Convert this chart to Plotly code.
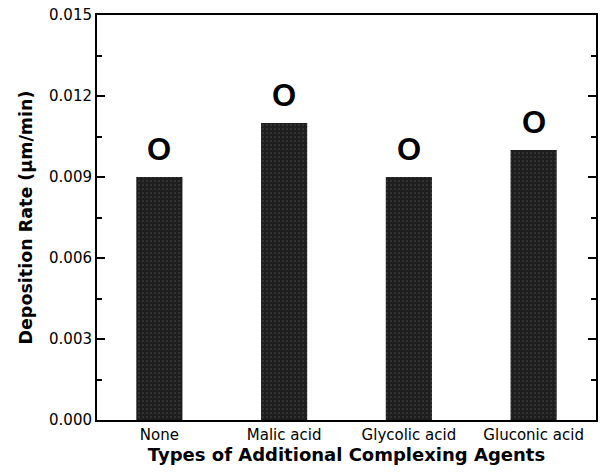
import plotly.graph_objects as go

categories = ["None", "Malic acid", "Glycolic acid", "Gluconic acid"]
rates = [0.009, 0.011, 0.009, 0.010]
bar_labels = ["O", "O", "O", "O"]
y_ticks = [0.000, 0.003, 0.006, 0.009, 0.012, 0.015]
y_tick_text = ["0.000", "0.003", "0.006", "0.009", "0.012", "0.015"]
y_minor_ticks = [0.0015, 0.0045, 0.0075, 0.0105, 0.0135]

fig = go.Figure()
fig.add_trace(go.Bar(
    x=categories, y=rates,
    marker=dict(color="#262626", line=dict(width=0),
                pattern=dict(shape=".", fgcolor="#6a6a6a", bgcolor="#1e1e1e", size=4, solidity=0.15)),
    width=0.37,
))

for cat, val, lab in zip(categories, rates, bar_labels):
    fig.add_annotation(x=cat, y=val, text=lab, showarrow=False,
                       yanchor="bottom", yshift=8,
                       font=dict(family="Liberation Sans, Arial", size=31, color="black", weight="bold"))

fig.update_layout(
    width=603, height=475,
    margin=dict(l=97, r=5, t=15, b=55),
    paper_bgcolor="white", plot_bgcolor="white",
    showlegend=False,
    font=dict(family="Liberation Sans, Arial", color="black"),
    xaxis=dict(
        showline=True, linecolor="black", linewidth=2, mirror=True,
        ticks="", showgrid=False,
        tickfont=dict(family="DejaVu Sans", size=15),
        title=dict(text="Types of Additional Complexing Agents",
                   font=dict(family="DejaVu Sans", size=18, weight="bold"), standoff=2),
    ),
    yaxis=dict(
        range=[0, 0.015],
        tickmode="array", tickvals=y_ticks, ticktext=y_tick_text,
        showline=True, linecolor="black", linewidth=2, mirror="allticks",
        ticks="inside", ticklen=8, tickwidth=2, tickcolor="black",
        minor=dict(tickmode="array", tickvals=y_minor_ticks, ticks="inside",
                   ticklen=5, tickwidth=1.5, tickcolor="black", showgrid=False),
        showgrid=False, zeroline=False,
        tickfont=dict(family="DejaVu Sans", size=15),
        title=dict(text="Deposition Rate (μm/min)",
                   font=dict(family="DejaVu Sans", size=17.5, weight="bold"), standoff=12),
    ),
)

fig.write_html("out.html")
